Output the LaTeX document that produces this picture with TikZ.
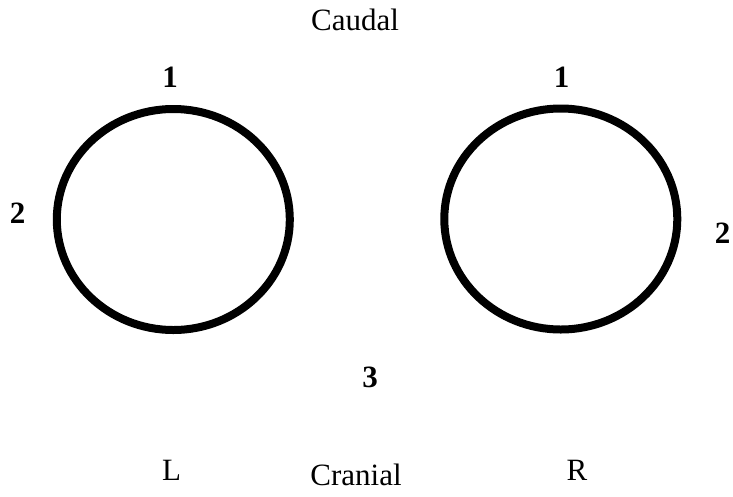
\documentclass[tikz,border=0pt]{standalone}
\usepackage{fontspec}
\setmainfont{Liberation Serif}
\usetikzlibrary{shapes.geometric, positioning}

\begin{document}
\begin{tikzpicture}[
    x=1pt, y=-1pt,
    ring/.style={ellipse, draw=black, line width=8pt, inner sep=0pt, minimum width=233pt, minimum height=221pt},
    side/.style={font=\fontsize{31}{36}\selectfont, inner sep=0pt, anchor=base},
    num/.style={font=\fontsize{31}{36}\selectfont\bfseries, inner sep=0pt, anchor=base}
]
    \useasboundingbox (0,0) rectangle (733,496);
    % Rings
    \node[ring] (lring) at (173.3,219.5) {};
    \node[ring] (rring) at (560.8,219) {};

    % Labels
    \node[side] (caudal) at (355,30) {Caudal};
    \node[side] (cranial) at (356,485) {Cranial};
    \node[side] (left) at (171.5,480.5) {L};
    \node[side] (right) at (577,480) {R};
    \node[num] (lone) at (170,87) {1};
    \node[num] (rone) at (561.5,87) {1};
    \node[num] (ltwo) at (17.5,223) {2};
    \node[num] (rtwo) at (722.5,243) {2};
    \node[num] (three) at (370,387) {3};
\end{tikzpicture}
\end{document}
